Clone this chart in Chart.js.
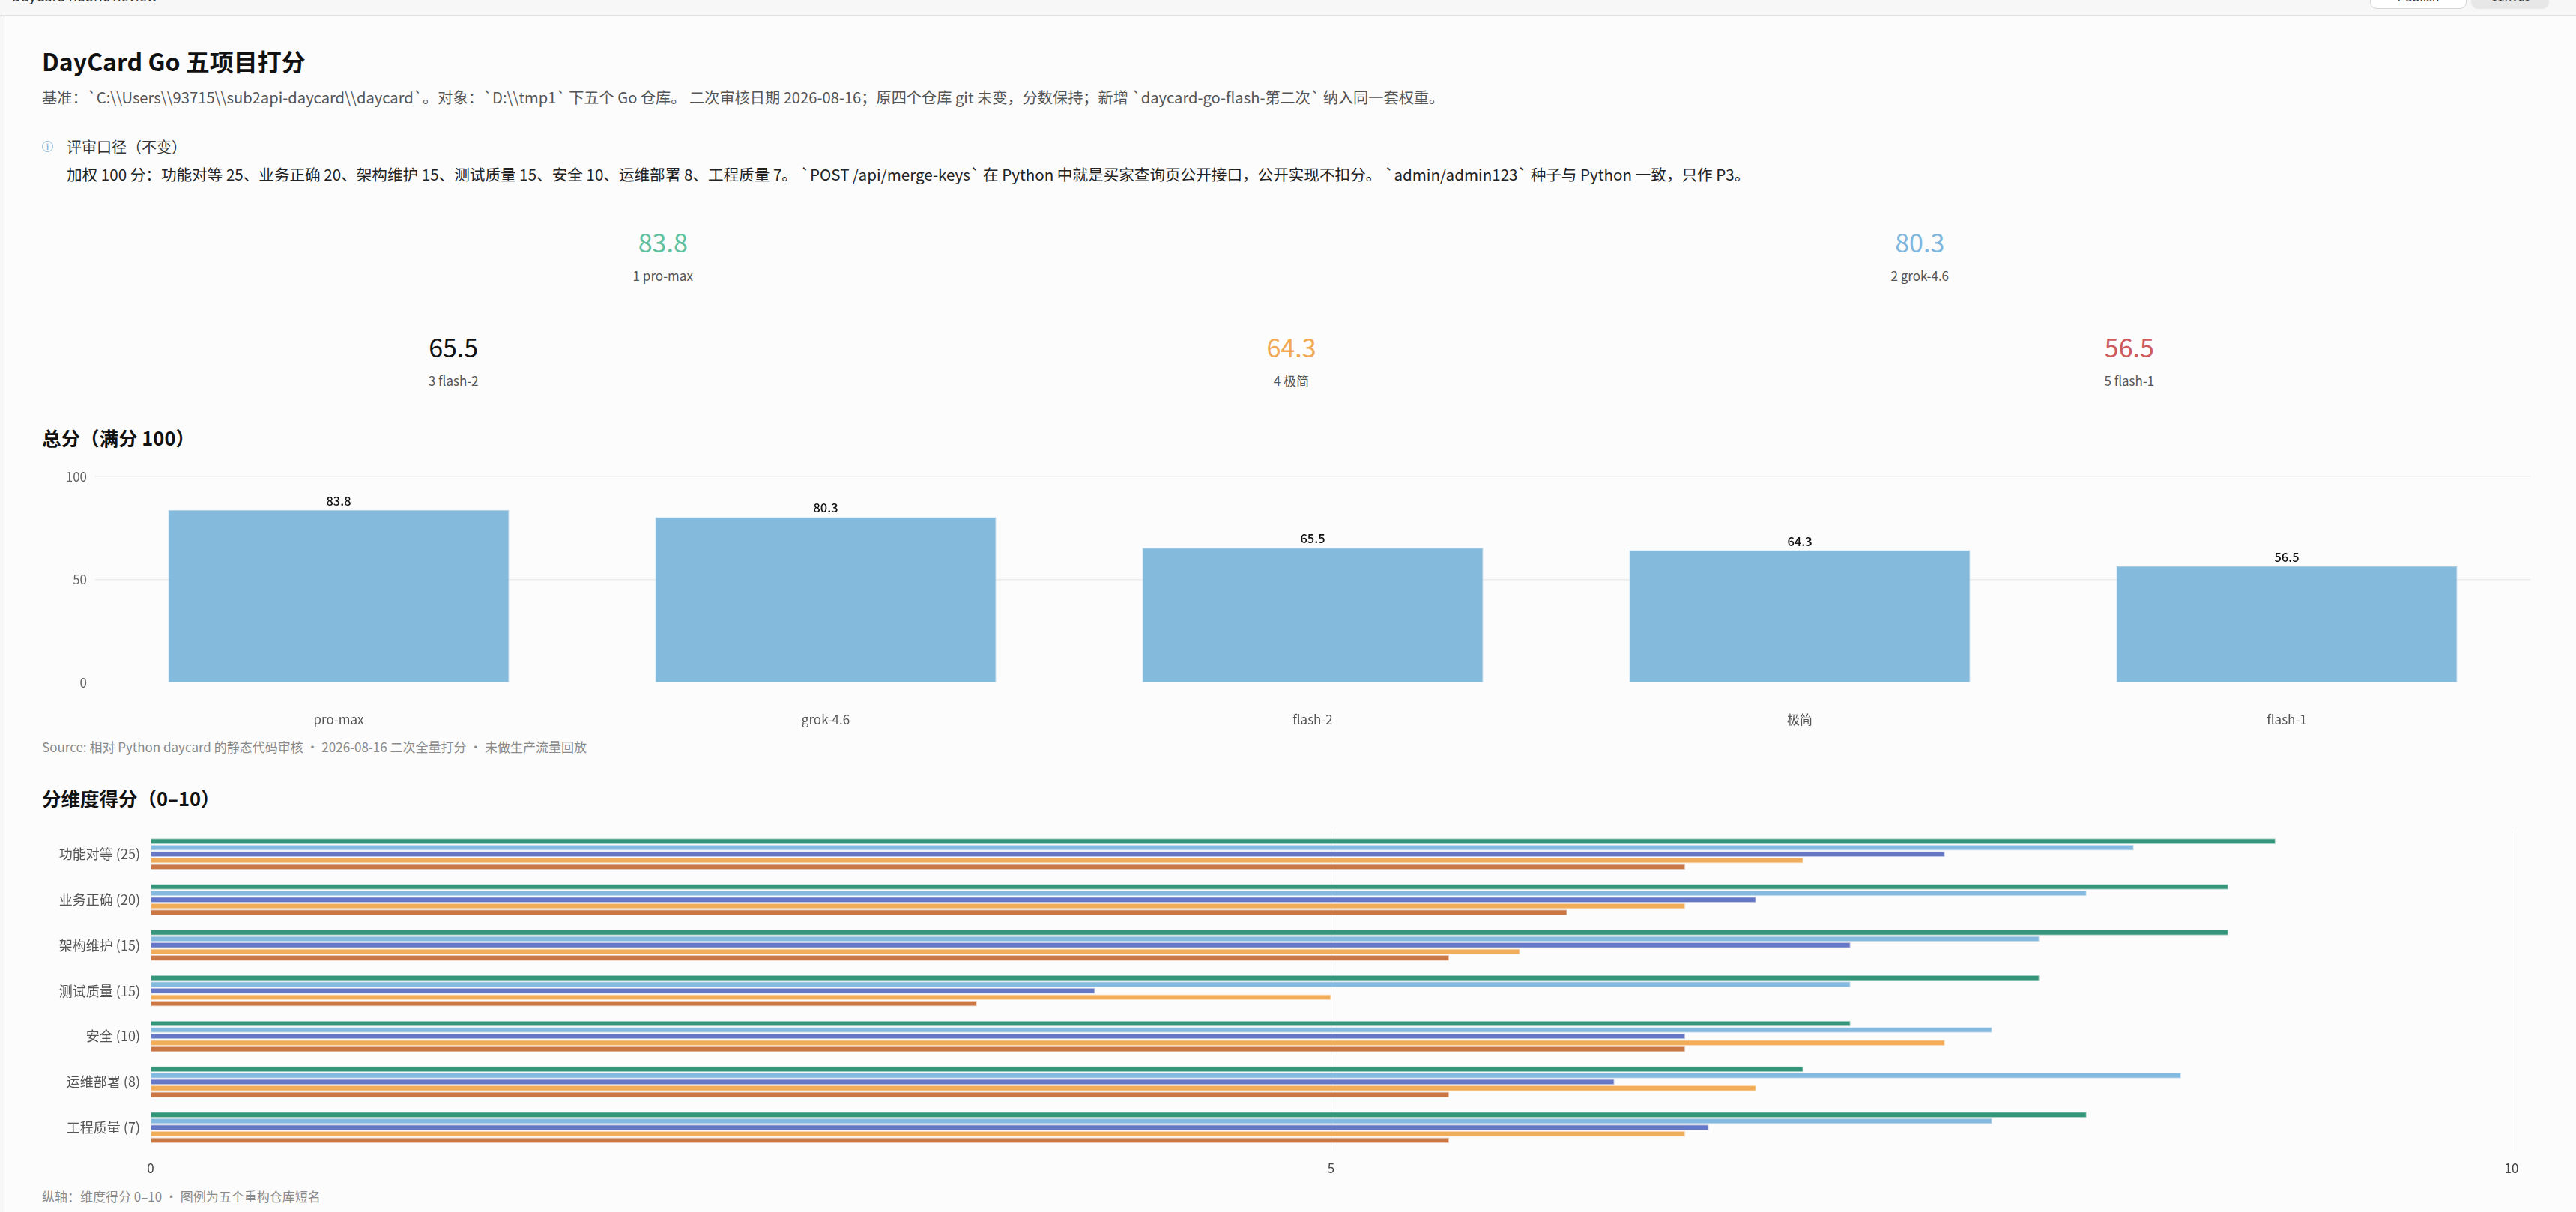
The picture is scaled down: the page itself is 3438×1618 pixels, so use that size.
<!DOCTYPE html>
<html lang="zh-CN">
<head>
<meta charset="utf-8">
<title>DayCard Go 五项目打分</title>
<script src="https://cdn.jsdelivr.net/npm/chart.js@4.4.1/dist/chart.umd.min.js"></script>
<style>
  html, body { margin: 0; padding: 0; }
  body {
    width: 3438px; height: 1618px; overflow: hidden; position: relative;
    background: #f7f7f7;
    font-family: "Noto Sans CJK SC", "Noto Sans", sans-serif;
    color: #222;
  }
  .topbar {
    position: absolute; left: 0; top: 0; width: 3438px; height: 20px;
    background: #f7f7f7; border-bottom: 1px solid #e2e2e2; overflow: hidden;
  }
  .topbar .name { position: absolute; left: 16px; top: -16px; font-size: 18px; line-height: 20px; color: #333; }
  .topbar .btn {
    position: absolute; top: -14px; height: 26px; border-radius: 9px;
    font-size: 16px; line-height: 16px; color: #333; text-align: center; box-sizing: border-box;
  }
  .topbar .pub { left: 3163px; width: 129px; border: 1px solid #d6d6d6; background: #fff; }
  .topbar .cnv { left: 3298px; width: 104px; background: #e7e7e7; }
  .panel {
    position: absolute; left: 5px; top: 21px; width: 3433px; height: 1597px;
    background: #fcfcfc; border-left: 1px solid #e4e4e4;
  }
  .abs { position: absolute; white-space: nowrap; }
  h1.abs { margin: 0; left: 50px; top: 44px; font-size: 32px; line-height: 32px; font-weight: 700; color: #111; }
  .sub { left: 50px; top: 99px; font-size: 20.2px; line-height: 20px; color: #555; }
  .note-h { left: 83px; top: 165px; font-size: 20px; line-height: 20px; color: #333; }
  .note-b { left: 83px; top: 201px; font-size: 20.6px; line-height: 20px; color: #222; }
  .icon {
    left: 50px; top: 167px; width: 13px; height: 13px; border: 1.5px solid #86b6d9; border-radius: 50%;
    font-size: 10px; line-height: 13px; text-align: center; color: #86b6d9; font-weight: 700;
  }
  .kpis { position: absolute; left: 40px; width: 3355px; display: grid; }
  .kpi { text-align: center; }
  .kpi .v { font-size: 34px; line-height: 34px; height: 34px; }
  .kpi .l { font-size: 17px; line-height: 18px; color: #555; margin-top: 19px; }
  h2.abs { margin: 0; left: 50px; font-size: 25.5px; line-height: 26px; font-weight: 700; color: #111; }
  .cap { left: 50px; font-size: 17px; line-height: 18px; color: #8a8a8a; }
  canvas.abs { left: 50px; }
</style>
</head>
<body>
<div class="topbar">
  <div class="name">DayCard Rubric Review</div>
  <div class="btn pub">Publish</div>
  <div class="btn cnv">Canvas</div>
</div>
<div class="panel">
  <h1 class="abs">DayCard Go 五项目打分</h1>
  <div class="abs sub">基准：`C:\\Users\\93715\\sub2api-daycard\\daycard`。对象：`D:\\tmp1` 下五个 Go 仓库。 二次审核日期 2026-08-16；原四个仓库 git 未变，分数保持；新增 `daycard-go-flash-第二次` 纳入同一套权重。</div>
  <div class="abs icon">i</div>
  <div class="abs note-h">评审口径（不变）</div>
  <div class="abs note-b">加权 100 分：功能对等 25、业务正确 20、架构维护 15、测试质量 15、安全 10、运维部署 8、工程质量 7。 `POST /api/merge-keys` 在 Python 中就是买家查询页公开接口，公开实现不扣分。 `admin/admin123` 种子与 Python 一致，只作 P3。</div>

  <div class="kpis" id="kpiRow1" style="top:285px; grid-template-columns: 1fr 1fr;"></div>
  <div class="kpis" id="kpiRow2" style="top:425px; grid-template-columns: 1fr 1fr 1fr;"></div>

  <h2 class="abs" style="top:550px;">总分（满分 100）</h2>
  <canvas class="abs" id="totalChart" width="3321" height="351" style="top:602px; width:3321px; height:351px;"></canvas>
  <div class="abs cap" style="top:967px;">Source: 相对 Python daycard 的静态代码审核 · 2026-08-16 二次全量打分 · 未做生产流量回放</div>

  <h2 class="abs" style="top:1031px;">分维度得分（0–10）</h2>
  <canvas class="abs" id="dimChart" width="3321" height="477" style="top:1075px; width:3321px; height:477px;"></canvas>
  <div class="abs cap" style="top:1567px;">纵轴：维度得分 0–10 · 图例为五个重构仓库短名</div>
</div>

<script>
// repos, in rank order
const repos = ['pro-max', 'grok-4.6', 'flash-2', '极简', 'flash-1'];
const totals = [83.8, 80.3, 65.5, 64.3, 56.5];
const kpiColors = ['#5fc19e', '#7fb7de', '#111111', '#f2a954', '#cd5a5c'];

// per-dimension scores (0-10)
const dims = ['功能对等 (25)', '业务正确 (20)', '架构维护 (15)', '测试质量 (15)', '安全 (10)', '运维部署 (8)', '工程质量 (7)'];
const proMax = [9.0, 8.8, 8.8, 8.0, 7.2, 7.0, 8.2];
const grok46 = [8.4, 8.2, 8.0, 7.2, 7.8, 8.6, 7.8];
const flash2 = [7.6, 6.8, 7.2, 4.0, 6.5, 6.2, 6.6];
const jijian = [7.0, 6.5, 5.8, 5.0, 7.6, 6.8, 6.5];
const flash1 = [6.5, 6.0, 5.5, 3.5, 6.5, 5.5, 5.5];
const seriesColors = ['#34957a', '#84badf', '#6577c5', '#f2ad5b', '#c97745'];

// kpi cards: first two on row 1, rest on row 2
repos.forEach((r, i) => {
  const el = document.createElement('div');
  el.className = 'kpi';
  el.innerHTML = '<div class="v" style="color:' + kpiColors[i] + '">' + totals[i].toFixed(1) + '</div>' +
                 '<div class="l">' + (i + 1) + ' ' + r + '</div>';
  document.getElementById(i < 2 ? 'kpiRow1' : 'kpiRow2').appendChild(el);
});

Chart.defaults.font.family = "'Noto Sans CJK SC', 'Noto Sans', sans-serif";
Chart.defaults.font.size = 17;
Chart.defaults.color = '#555';
Chart.defaults.animation = false;

const hideZero = (ctx) => (ctx.tick && ctx.tick.value === 0) ? 'rgba(0,0,0,0)' : '#ececec';

// value labels above the total bars
const valueLabels = {
  id: 'valueLabels',
  afterDatasetsDraw(chart) {
    const ctx = chart.ctx;
    ctx.save();
    ctx.font = "500 16.5px 'Noto Sans CJK SC', sans-serif";
    ctx.fillStyle = '#111';
    ctx.textAlign = 'center';
    ctx.textBaseline = 'bottom';
    chart.getDatasetMeta(0).data.forEach((bar, i) => {
      ctx.fillText(totals[i].toFixed(1), bar.x, bar.y - 4);
    });
    ctx.restore();
  }
};

new Chart(document.getElementById('totalChart'), {
  type: 'bar',
  data: {
    labels: repos,
    datasets: [{
      data: totals,
      backgroundColor: 'rgba(125,182,218,0.95)',
      borderColor: 'rgba(170,206,231,1)',
      borderWidth: 1,
      barPercentage: 1.0,
      categoryPercentage: 0.7
    }]
  },
  options: {
    responsive: false,
    plugins: { legend: { display: false }, tooltip: { enabled: false } },
    scales: {
      x: {
        grid: { color: 'rgba(0,0,0,0)', tickColor: 'rgba(0,0,0,0)', tickLength: 36 },
        border: { display: false },
        ticks: { padding: 3, color: '#555' }
      },
      y: {
        min: 0, max: 100,
        afterFit(scale) { scale.width = 71; },
        grid: { color: hideZero, tickColor: 'rgba(0,0,0,0)', tickLength: 8, lineWidth: 1.5 },
        border: { display: false },
        ticks: { stepSize: 50, padding: 3, color: '#666' }
      }
    }
  },
  plugins: [valueLabels]
});

const seriesData = [proMax, grok46, flash2, jijian, flash1];
new Chart(document.getElementById('dimChart'), {
  type: 'bar',
  data: {
    labels: dims,
    datasets: repos.map((r, i) => ({
      label: r,
      data: seriesData[i],
      backgroundColor: seriesColors[i],
      borderColor: seriesColors[i] + '66',
      borderWidth: 1,
      barPercentage: 0.9,
      categoryPercentage: 0.7
    }))
  },
  options: {
    indexAxis: 'y',
    responsive: false,
    layout: { padding: { right: 25 } },
    plugins: { legend: { display: false }, tooltip: { enabled: false } },
    scales: {
      x: {
        min: 0, max: 10,
        grid: { color: hideZero, tickColor: 'rgba(0,0,0,0)', tickLength: 11 },
        border: { display: false },
        ticks: { stepSize: 5, padding: 3, color: '#444' }
      },
      y: {
        afterFit(scale) { scale.width = 145; },
        grid: { display: false, tickLength: 11 },
        border: { display: false },
        ticks: { padding: 3, color: '#555', font: { size: 18 } }
      }
    }
  }
});
</script>
</body>
</html>
